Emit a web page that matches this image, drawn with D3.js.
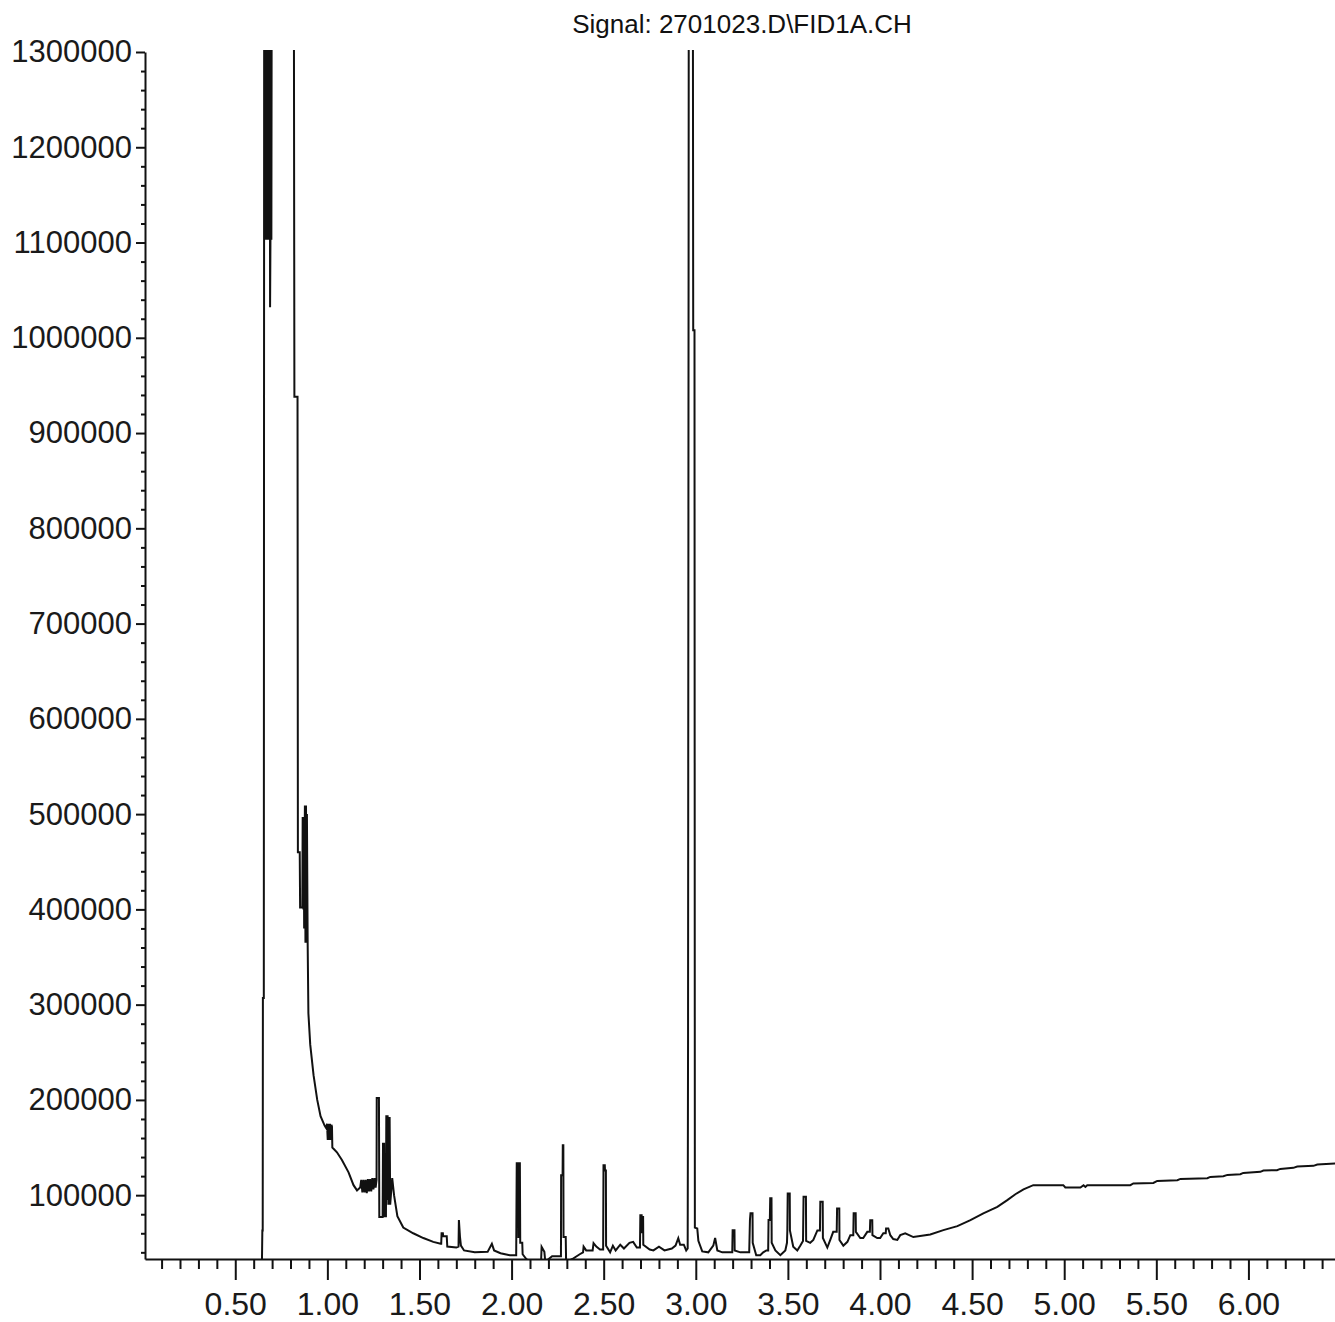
<!DOCTYPE html>
<html>
<head>
<meta charset="utf-8">
<script src="https://cdn.jsdelivr.net/npm/d3@7"></script>
<style>
    body { margin: 0; background: #ffffff; }
    svg { display: block; }
</style>
</head>
<body>
<div id="chart"></div>
<script>

const title = 'Signal: 2701023.D\\FID1A.CH';

// Detector trace as [retention time (min), response]. 1400000 = off scale (clipped)
const solventFront = [
    [0.01, 32000], [0.645, 32000], [0.647, 63000], [0.649, 63000], [0.650, 307000],
    [0.655, 307000], [0.657, 1400000], [0.664, 1400000], [0.666, 1103000], [0.669, 1400000],
    [0.672, 1103000], [0.675, 1400000], [0.678, 1103000], [0.681, 1400000], [0.684, 1103000],
    [0.687, 1400000], [0.689, 1032000], [0.691, 1103000], [0.694, 1400000], [0.696, 1103000],
    [0.698, 1400000],
    [0.818, 1400000], [0.821, 938000], [0.838, 938000], [0.840, 460000], [0.850, 460000],
    [0.852, 402000], [0.864, 402000], [0.866, 497000], [0.870, 400000], [0.872, 497000],
    [0.874, 380000], [0.878, 509000], [0.881, 365000], [0.884, 509000], [0.886, 365000],
    [0.889, 500000], [0.893, 365000], [0.897, 291000], [0.907, 258000], [0.925, 226000],
    [0.945, 200000], [0.963, 183000], [0.985, 173000], [0.995, 170000], [0.998, 175000],
    [1.002, 158000], [1.006, 175000], [1.010, 158000], [1.014, 175000], [1.018, 158000],
    [1.022, 174000], [1.025, 172000], [1.027, 150000], [1.052, 145000], [1.079, 137000],
    [1.115, 124000], [1.142, 110500], [1.161, 105000], [1.178, 108000], [1.184, 116000],
    [1.190, 103000], [1.196, 116000], [1.202, 103000], [1.208, 116000], [1.214, 102000],
    [1.220, 117000], [1.226, 104000], [1.232, 117000], [1.238, 104000], [1.244, 118000],
    [1.250, 106000], [1.256, 118000], [1.262, 108000], [1.267, 116000], [1.268, 202000],
    [1.280, 202000], [1.282, 77000], [1.300, 77000], [1.302, 154000], [1.308, 154000],
    [1.310, 78000], [1.318, 78000], [1.320, 184000], [1.324, 95000], [1.327, 184000],
    [1.331, 90000], [1.334, 181000], [1.338, 181000], [1.341, 90000], [1.352, 118000],
    [1.362, 100000], [1.380, 78000], [1.412, 66000], [1.466, 60000], [1.521, 55000],
    [1.575, 51000], [1.615, 49000]
];

const earlyPeaks = [
    [1.618, 49000], [1.620, 60000], [1.627, 60000], [1.629, 57000], [1.648, 57000],
    [1.651, 46000], [1.700, 45000], [1.712, 46000], [1.714, 74000], [1.720, 56000],
    [1.725, 47000], [1.742, 42000], [1.800, 40000], [1.870, 40500], [1.893, 49000],
    [1.905, 42000], [1.940, 39000], [1.990, 37000], [2.025, 37000], [2.028, 133600],
    [2.036, 133600], [2.037, 55000], [2.038, 133600], [2.045, 133600], [2.047, 50000],
    [2.058, 50000], [2.060, 38000], [2.080, 33000], [2.100, 30000], [2.160, 30000],
    [2.163, 45700], [2.178, 40500], [2.183, 30000], [2.220, 36000], [2.268, 36000],
    [2.269, 121000], [2.277, 121000], [2.278, 152500], [2.281, 152500], [2.282, 56000],
    [2.294, 56000], [2.296, 30000], [2.330, 33000], [2.370, 38000], [2.388, 40000],
    [2.391, 46000], [2.405, 42000], [2.440, 42000], [2.445, 49600], [2.460, 46000],
    [2.480, 43000], [2.497, 43000], [2.499, 131500], [2.506, 131500], [2.507, 126000],
    [2.512, 126000], [2.513, 47000], [2.535, 40000], [2.550, 47000], [2.565, 42000],
    [2.590, 48000], [2.610, 44000], [2.640, 50000], [2.660, 51000], [2.680, 45000],
    [2.697, 45000], [2.699, 79000], [2.706, 79000], [2.707, 60000], [2.708, 77000],
    [2.714, 77000], [2.715, 48000], [2.750, 43000], [2.770, 42000], [2.800, 46000],
    [2.830, 42000], [2.870, 44000], [2.890, 47000], [2.905, 54900], [2.915, 48000],
    [2.935, 48000], [2.948, 42000], [2.956, 44000], [2.958, 262000], [2.962, 1400000],
    [2.984, 1400000], [2.986, 1008000], [2.993, 1008000], [2.995, 66000], [3.008, 65000],
    [3.014, 52000], [3.035, 41000]
];

const homologues = [
    [3.068, 40000], [3.095, 47000], [3.105, 55000], [3.117, 42000], [3.144, 40000],
    [3.198, 40000], [3.200, 63300], [3.210, 63300], [3.211, 42000], [3.242, 40000],
    [3.290, 40000], [3.294, 74000], [3.297, 81000], [3.308, 81000], [3.309, 50000],
    [3.328, 37000], [3.350, 37000], [3.366, 40000], [3.383, 42000], [3.393, 42000],
    [3.395, 74000], [3.402, 74000], [3.404, 96800], [3.411, 96800], [3.412, 50000],
    [3.432, 42000], [3.459, 37000], [3.486, 42000], [3.495, 50000], [3.497, 63000],
    [3.499, 101800], [3.510, 101800], [3.511, 63000], [3.529, 46000], [3.551, 42000],
    [3.567, 47000], [3.582, 52000], [3.585, 98300], [3.598, 98300], [3.599, 52000],
    [3.621, 50000], [3.638, 53000], [3.660, 63000], [3.674, 63000], [3.676, 93000],
    [3.689, 93000], [3.690, 55000], [3.714, 45000], [3.730, 53000], [3.746, 61500],
    [3.765, 61500], [3.767, 86000], [3.779, 86000], [3.780, 53000], [3.801, 47000],
    [3.823, 51000], [3.839, 58000], [3.855, 58000], [3.857, 81000], [3.868, 81000],
    [3.869, 61500], [3.893, 55000], [3.909, 55000], [3.931, 61500], [3.945, 61500],
    [3.947, 73800], [3.958, 73800], [3.959, 58000], [3.985, 55000], [4.001, 55000],
    [4.018, 60000], [4.031, 60000], [4.033, 65000], [4.045, 65000], [4.056, 58000],
    [4.072, 54000], [4.094, 53000], [4.110, 58000], [4.137, 60000]
];

const bakeout = [
    [4.181, 56000], [4.273, 58700], [4.344, 63300], [4.420, 67500], [4.491, 73800],
    [4.561, 80800], [4.637, 87800], [4.691, 94800], [4.735, 101000], [4.779, 106000],
    [4.832, 110500], [4.995, 110500], [5.006, 108100], [5.088, 108100], [5.105, 110500],
    [5.115, 108700], [5.125, 110500], [5.359, 110500], [5.375, 112300], [5.484, 112900],
    [5.505, 115000], [5.614, 115700], [5.631, 117100], [5.777, 117800], [5.793, 119200],
    [5.864, 119900], [5.886, 121300], [5.956, 122000], [5.972, 123400], [6.065, 124500],
    [6.081, 125900], [6.155, 126200], [6.173, 127600], [6.244, 128700], [6.265, 130100],
    [6.353, 130800], [6.374, 132200], [6.472, 133300], [6.500, 133600]
];

const xMajorTicks = [0.5, 1.0, 1.5, 2.0, 2.5, 3.0, 3.5, 4.0, 4.5, 5.0, 5.5, 6.0];
const yMajorTicks = [100000, 200000, 300000, 400000, 500000, 600000, 700000,
                     800000, 900000, 1000000, 1100000, 1200000, 1300000];

const trace = [...solventFront, ...earlyPeaks, ...homologues, ...bakeout];

const width = 1335;
const height = 1322;
const plotLeft = 145;     // y axis position
const plotRight = 1335;
const plotTop = 52;       // 1300000 line
const plotBottom = 1259;  // x axis position
const font = "'Liberation Sans', Arial, sans-serif";
const ink = '#111';

const x = d3.scaleLinear().domain([0.01, 6.47]).range([plotLeft, plotRight]);
const y = d3.scaleLinear().domain([33000, 1300000]).range([plotBottom, plotTop]);

const svg = d3.select('#chart')
    .append('svg')
    .attr('width', width)
    .attr('height', height);

svg.append('defs')
    .append('clipPath')
        .attr('id', 'plot-clip')
    .append('rect')
        .attr('x', plotLeft)
        .attr('y', plotTop - 2)
        .attr('width', plotRight - plotLeft)
        .attr('height', plotBottom - plotTop + 2);

// Title
svg.append('text')
    .attr('x', 742)
    .attr('y', 33)
    .attr('text-anchor', 'middle')
    .attr('font-family', font)
    .attr('font-size', '26px')
    .attr('fill', ink)
    .text(title);

// Minor ticks (no labels)
const xMinor = d3.range(1, 65).map(d => d / 10).filter(d => Math.round(d * 10) % 5 !== 0);
const yMinor = d3.range(40000, 1300000, 20000).filter(d => d % 100000 !== 0);

svg.append('g')
    .attr('transform', `translate(0,${plotBottom})`)
    .call(d3.axisBottom(x).tickValues(xMinor).tickSize(10).tickSizeOuter(0).tickFormat(''))
    .call(g => g.select('.domain').remove());

svg.append('g')
    .attr('transform', `translate(${plotLeft},0)`)
    .call(d3.axisLeft(y).tickValues(yMinor).tickSize(4).tickSizeOuter(0).tickFormat(''))
    .call(g => g.select('.domain').remove());

// Major axes
const xAxis = svg.append('g')
    .attr('transform', `translate(0,${plotBottom})`)
    .call(d3.axisBottom(x)
        .tickValues(xMajorTicks)
        .tickSize(21)
        .tickSizeOuter(0)
        .tickPadding(12)
        .tickFormat(d3.format('.2f')));

xAxis.selectAll('text')
    .attr('font-size', '32px');

const yAxis = svg.append('g')
    .attr('transform', `translate(${plotLeft},0)`)
    .call(d3.axisLeft(y)
        .tickValues(yMajorTicks)
        .tickSize(9)
        .tickSizeOuter(0)
        .tickPadding(4)
        .tickFormat(d3.format('d')));

yAxis.selectAll('text')
    .attr('font-size', '31px');

svg.selectAll('.tick line, .domain')
    .attr('stroke', ink)
    .attr('stroke-width', 2);

svg.selectAll('.tick text')
    .attr('font-family', font)
    .attr('fill', '#1a1a1a');

// Chromatogram trace
const line = d3.line()
    .x(d => x(d[0]))
    .y(d => y(d[1]));

svg.append('path')
    .datum(trace)
    .attr('clip-path', 'url(#plot-clip)')
    .attr('fill', 'none')
    .attr('stroke', ink)
    .attr('stroke-width', 2)
    .attr('d', line);

</script>
</body>
</html>
